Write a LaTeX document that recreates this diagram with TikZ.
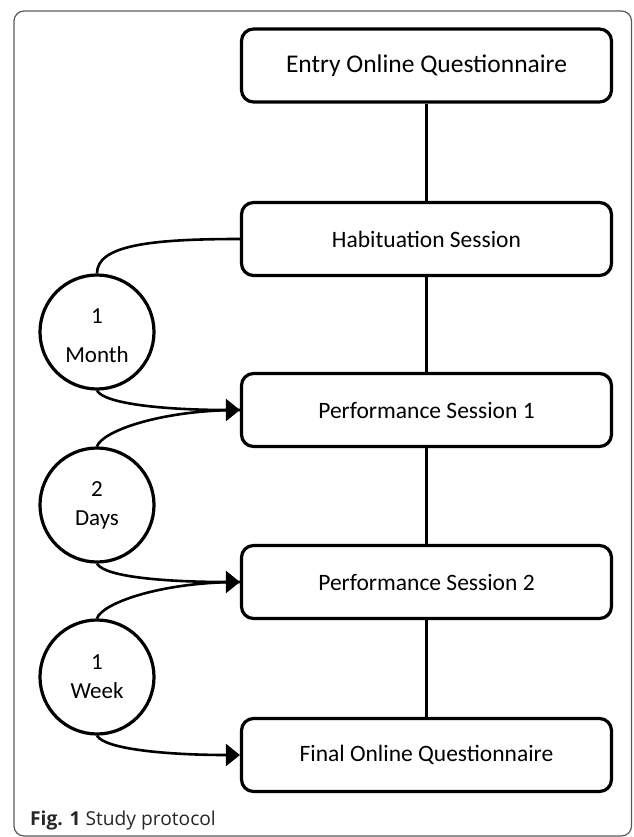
\documentclass[tikz,border=0pt]{standalone}
\usepackage{fontspec}
\setmainfont{Carlito}
\newfontfamily\capfont{Open Sans}
\usetikzlibrary{arrows.meta}
\begin{document}
\begin{tikzpicture}[x=1pt,y=-1pt,
  stepbox/.style={draw, line width=3.2pt, rounded corners=12pt, minimum width=370pt, minimum height=73pt, fill=white, inner sep=0pt, font=\fontsize{23.5}{28}\selectfont},
  gapnode/.style={draw, circle, line width=3.2pt, minimum size=114pt, inner sep=0pt, align=center, fill=white, font=\fontsize{23}{29}\selectfont},
  gaptext/.style={inner sep=0pt, align=center, font=\fontsize{23}{29}\selectfont},
  link/.style={line width=2.6pt},
  arr/.style={line width=2.6pt, -{Triangle[length=14pt,width=22pt]}},
  framebox/.style={draw=black!65, line width=1.2pt, rounded corners=10pt}]
\useasboundingbox (0,0) rectangle (633,837);
\draw[framebox] (14,11) rectangle (631.5,836);
\node[stepbox, font=\fontsize{25.5}{30}\selectfont] (entry) at (426.5,65.5) {Entry Online Questionnaire};
\node[stepbox] (hab) at (426.5,239) {Habituation Session};
\node[stepbox] (p1) at (426.5,410) {Performance Session 1};
\node[stepbox] (p2) at (426.5,582) {Performance Session 2};
\node[stepbox] (final) at (426.5,755) {Final Online Questionnaire};
\node[gapnode] (c1) at (97,332) {};
\node[gaptext] (t1) at (97,336) {1\\[10pt]Month};
\node[gapnode] (c2) at (97,505) {2\\Days};
\node[gapnode] (c3) at (97,677) {1\\Week};
\draw[link] (entry) -- (hab);
\draw[link] (hab) -- (p1);
\draw[link] (p1) -- (p2);
\draw[link] (p2) -- (final);
\draw[link] (c1.north) .. controls +(0,-28) and +(-90,0) .. (hab.west);
\draw[link] (c2.north) .. controls +(5,-15) and +(-80,0) .. (p1.west);
\draw[link] (c3.north) .. controls +(5,-15) and +(-80,0) .. (p2.west);
\draw[arr] (c1.south) .. controls +(8,14) and +(-70,0) .. (p1.west);
\draw[arr] (c2.south) .. controls +(8,14) and +(-70,0) .. (p2.west);
\draw[arr] (c3.south) .. controls +(8,14) and +(-70,0) .. (final.west);
\node[anchor=base west, inner sep=0pt, font=\capfont\fontsize{19.2}{22}\selectfont, text=black!85] (cap) at (30,825) {\textbf{Fig. 1} Study protocol};
\end{tikzpicture}
\end{document}
